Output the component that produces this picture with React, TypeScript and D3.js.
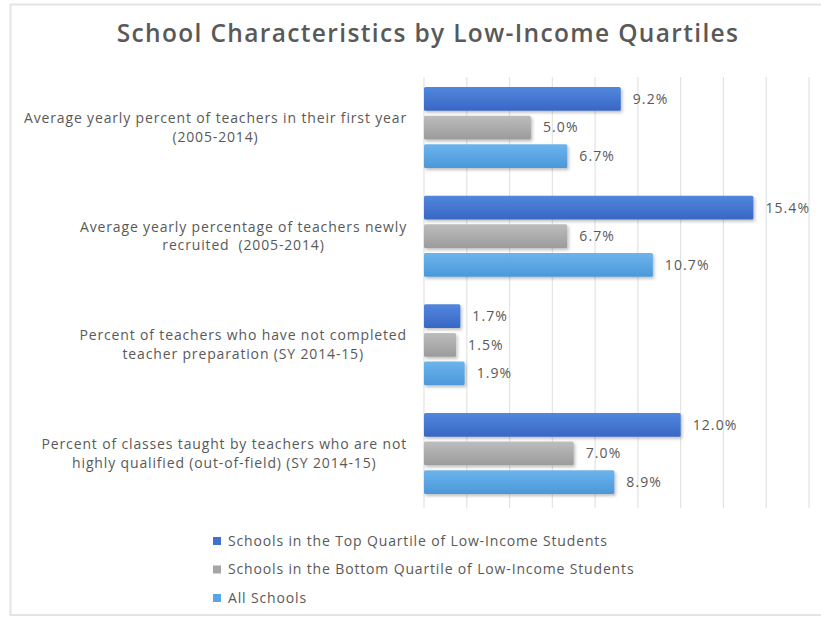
import React, { useEffect, useRef } from "react";
import * as d3 from "d3";

const categories = [
  ["Average yearly percent of teachers in their first year", "(2005-2014)"],
  ["Average yearly percentage of teachers newly", "recruited  (2005-2014)"],
  ["Percent of teachers who have not completed", "teacher preparation (SY 2014-15)"],
  ["Percent of classes taught by teachers who are not", "highly qualified (out-of-field) (SY 2014-15)"],
];
const seriesNames = [
  "Schools in the Top Quartile of Low-Income Students",
  "Schools in the Bottom Quartile of Low-Income Students",
  "All Schools",
];
const topQuartile = [9.2, 15.4, 1.7, 12.0];
const bottomQuartile = [5.0, 6.7, 1.5, 7.0];
const allSchools = [6.7, 10.7, 1.9, 8.9];
const gridTicks = [0, 2, 4, 6, 8, 10, 12, 14, 16, 18];

const W = 821;
const H = 617;
const FONT = "'Open Sans', sans-serif";
const TEXT = "#595959";

export default function App() {
  const ref = useRef<SVGSVGElement>(null);

  useEffect(() => {
    const svg = d3.select(ref.current);
    svg.selectAll("*").remove();

    const defs = svg.append("defs");
    const grads = [
      ["g0", "#5287dd", "#3867c4"],
      ["g1", "#bdbdbd", "#9b9b9b"],
      ["g2", "#6cb4ec", "#4b98da"],
    ];
    grads.forEach(([id, a, b]) => {
      const g = defs.append("linearGradient").attr("id", id).attr("x1", 0).attr("y1", 0).attr("x2", 0).attr("y2", 1);
      g.append("stop").attr("offset", "0%").attr("stop-color", a);
      g.append("stop").attr("offset", "100%").attr("stop-color", b);
    });
    const f = defs.append("filter").attr("id", "sh").attr("x", "-10%").attr("y", "-20%").attr("width", "130%").attr("height", "160%");
    f.append("feDropShadow").attr("dx", 1.5).attr("dy", 2).attr("stdDeviation", 1.5).attr("flood-color", "#000").attr("flood-opacity", 0.25);
    const legendColors = ["#3f72cf", "#a6a6a6", "#5aa5e3"];

    // frame
    svg.append("rect").attr("x", 10.5).attr("y", 4.5).attr("width", W).attr("height", 610.5)
      .attr("fill", "#fff").attr("stroke", "#e4e4e4").attr("stroke-width", 2);

    // title
    svg.append("text").attr("x", 428).attr("y", 42).attr("text-anchor", "middle")
      .attr("font-family", FONT).attr("font-weight", 600).attr("font-size", 24.5).attr("letter-spacing", 1.35).attr("fill", TEXT)
      .text("School Characteristics by Low-Income Quartiles");

    const x = d3.scaleLinear().domain([0, 18]).range([424, 809]);
    const y = d3.scaleBand<number>().domain(d3.range(categories.length)).range([73, 508]).paddingInner(0.255).paddingOuter(0.13);
    const yi = d3.scaleBand<number>().domain([0, 1, 2]).range([0, y.bandwidth()]).paddingInner(0.17);

    // gridlines
    svg.append("g").selectAll("line").data(gridTicks).join("line")
      .attr("x1", (d) => x(d)).attr("x2", (d) => x(d)).attr("y1", 77).attr("y2", 508)
      .attr("stroke", "#e3e3e3").attr("stroke-width", 1.2);

    const series = [topQuartile, bottomQuartile, allSchools];
    series.forEach((vals, si) => {
      const g = svg.append("g");
      g.selectAll("rect").data(vals).join("rect")
        .attr("x", x(0)).attr("y", (_, i) => (y(i) as number) + (yi(si) as number))
        .attr("width", (d) => x(d) - x(0)).attr("height", yi.bandwidth())
        .attr("rx", 1.5)
        .attr("fill", `url(#g${si})`).attr("filter", "url(#sh)");
      g.selectAll("text").data(vals).join("text")
        .attr("x", (d) => x(d) + 12)
        .attr("y", (_, i) => (y(i) as number) + (yi(si) as number) + yi.bandwidth() / 2)
        .attr("dy", "0.35em").attr("font-family", FONT).attr("font-size", 14).attr("letter-spacing", 1.1).attr("fill", TEXT)
        .text((d) => d.toFixed(1) + "%");
    });

    // category labels
    categories.forEach((lines, i) => {
      const cy = (y(i) as number) + y.bandwidth() / 2;
      const g = svg.append("g");
      const texts = lines.map((l, li) =>
        g.append("text").attr("y", cy + (li - (lines.length - 1) / 2) * 18.5).attr("dy", "0.35em")
          .attr("text-anchor", "middle").attr("font-family", FONT).attr("font-size", 14).attr("letter-spacing", 0.85)
          .style("white-space", "pre")
          .attr("fill", TEXT).text(l)
      );
      const maxW = d3.max(texts, (t) => (t.node() as SVGTextElement).getComputedTextLength()) || 0;
      texts.forEach((t) => t.attr("x", 407 - maxW / 2));
    });

    // legend
    const lg = svg.append("g");
    seriesNames.forEach((n, i) => {
      const cy = 541 + i * 28.5;
      lg.append("rect").attr("x", 213).attr("y", cy - 4).attr("width", 8).attr("height", 8).attr("fill", legendColors[i]);
      lg.append("text").attr("x", 228).attr("y", cy).attr("dy", "0.35em").attr("font-family", FONT)
        .attr("font-size", 14).attr("letter-spacing", 0.85).attr("fill", TEXT).text(n);
    });
  }, []);

  return <svg ref={ref} width={W} height={H} style={{ display: "block", position: "absolute", left: 0, top: 0 }} />;
}
